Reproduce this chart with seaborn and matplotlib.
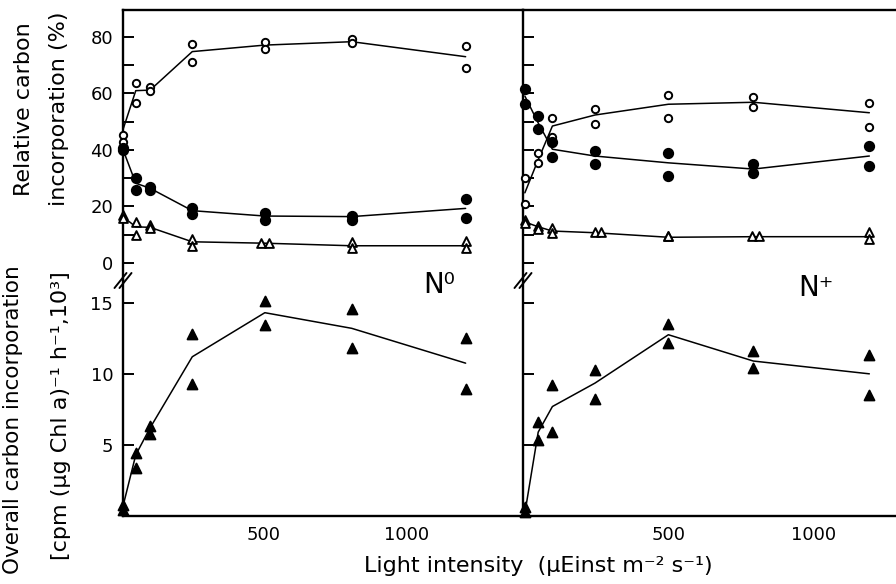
import numpy as np
import pandas as pd
import matplotlib
matplotlib.use("Agg")
import matplotlib.pyplot as plt
from matplotlib.lines import Line2D
import seaborn as sns

# ---------------- data ----------------
# N0 panel
n0_x = [10, 55, 105, 252, 505, 808, 1205]
n0_open_a = [45.2, 63.7, 62.1, 77.4, 78.2, 79.0, 76.7]
n0_open_b = [42.9, 56.6, 60.9, 70.9, 75.6, 77.6, 68.8]
n0_open_line = [47.0, 60.9, 61.1, 74.7, 77.0, 78.2, 72.9]
n0_fill_a = [40.5, 29.9, 26.7, 19.3, 17.5, 16.6, 22.5]
n0_fill_b = [39.9, 25.8, 25.8, 17.3, 15.2, 15.2, 15.8]
n0_fill_line = [40.2, 28.2, 26.4, 18.5, 16.6, 16.4, 19.3]
n0_tri_xa = [10, 55, 105, 252, 490, 808, 1205]
n0_tri_xb = [10, 55, 105, 252, 518, 808, 1205]
n0_tri_a = [17.0, 14.6, 13.4, 8.4, 7.0, 7.5, 7.9]
n0_tri_b = [15.8, 9.9, 12.3, 6.0, 7.0, 5.2, 5.2]
n0_tri_line = [16.4, 12.8, 12.6, 7.5, 7.0, 6.1, 6.1]
n0_total_a = [0.77, 4.4, 6.3, 12.8, 15.1, 14.55, 12.5]
n0_total_b = [0.4, 3.4, 5.8, 9.3, 13.45, 11.8, 8.9]
n0_total_line = [0.65, 4.3, 6.2, 11.2, 14.3, 13.2, 10.75]

# N+ panel
np_x = [3, 49, 98, 245, 498, 791, 1191]
np_open_a = [29.9, 39.0, 51.3, 54.4, 59.4, 58.6, 56.4]
np_open_b = [20.8, 35.2, 44.6, 49.1, 51.1, 55.0, 48.0]
np_open_line = [24.8, 36.5, 48.4, 52.3, 56.1, 56.8, 53.1]
np_fill_a = [61.5, 51.9, 42.7, 39.6, 39.0, 34.9, 41.4]
np_fill_b = [56.1, 47.2, 37.3, 34.9, 30.7, 31.9, 34.4]
np_fill_line = [59.0, 49.5, 40.2, 37.8, 35.4, 33.2, 37.8]
np_tri_xa = [3, 49, 98, 245, 498, 787, 1191]
np_tri_xb = [3, 49, 98, 264, 498, 811, 1191]
np_tri_a = [15.2, 13.2, 12.3, 10.8, 9.6, 9.6, 10.8]
np_tri_b = [14.2, 11.9, 10.5, 10.8, 9.6, 9.6, 8.5]
np_tri_line = [14.5, 12.8, 11.3, 10.7, 9.1, 9.3, 9.3]
np_total_a = [0.65, 6.6, 9.2, 10.3, 13.5, 11.6, 11.3]
np_total_b = [0.3, 5.35, 5.9, 8.2, 12.2, 10.4, 8.5]
np_total_line = [0.2, 5.9, 7.7, 9.35, 12.75, 10.9, 10.0]

upper_ticks = [0, 20, 40, 60, 80]
upper_minor = [10, 30, 50, 70]
lower_ticks = [5, 10, 15]
x_ticks = [500, 1000]

# ---------------- style ----------------
sns.set_style("white")
plt.rcParams["font.family"] = ["DejaVu Sans"]
plt.rcParams["text.color"] = "black"
plt.rcParams["xtick.color"] = "black"
plt.rcParams["ytick.color"] = "black"

W, H = 896, 584
fig = plt.figure(figsize=(W / 100, H / 100), dpi=100)


def rect(x0, y0, x1, y1):
    return [x0 / W, 1 - y1 / H, (x1 - x0) / W, (y1 - y0) / H]


axUL = fig.add_axes(rect(123, 10, 523, 280))
axLL = fig.add_axes(rect(123, 280, 523, 516))
axUR = fig.add_axes(rect(523, 10, 905, 280))
axLR = fig.add_axes(rect(523, 280, 905, 516))


def series(ax, xa, ya, xb, yb, xl, yl, marker, filled, size):
    line = pd.DataFrame({"x": xl, "y": yl})
    pts = pd.DataFrame({"x": list(xa) + list(xb), "y": list(ya) + list(yb)})
    sns.lineplot(data=line, x="x", y="y", ax=ax, color="black", lw=1.1,
                 estimator=None, sort=False, zorder=2, clip_on=False)
    sns.scatterplot(data=pts, x="x", y="y", ax=ax, marker=marker, s=size,
                    color="black" if filled else "white", edgecolor="black",
                    linewidth=1.4, zorder=3, clip_on=False, legend=False)


# N0
series(axUL, n0_x, n0_open_a, n0_x, n0_open_b, n0_x, n0_open_line, "o", False, 28)
series(axUL, n0_x, n0_fill_a, n0_x, n0_fill_b, n0_x, n0_fill_line, "o", True, 45)
series(axUL, n0_tri_xa, n0_tri_a, n0_tri_xb, n0_tri_b, n0_x, n0_tri_line, "^", False, 40)
series(axLL, n0_x, n0_total_a, n0_x, n0_total_b, n0_x, n0_total_line, "^", True, 50)
# N+
series(axUR, np_x, np_open_a, np_x, np_open_b, np_x, np_open_line, "o", False, 28)
series(axUR, np_x, np_fill_a, np_x, np_fill_b, np_x, np_fill_line, "o", True, 45)
series(axUR, np_tri_xa, np_tri_a, np_tri_xb, np_tri_b, np_x, np_tri_line, "^", False, 40)
series(axLR, np_x, np_total_a, np_x, np_total_b, np_x, np_total_line, "^", True, 50)

for ax in (axUL, axLL):
    ax.set_xlim(10.5, 1405)
for ax in (axUR, axLR):
    ax.set_xlim(-3.4, 1314)
for ax in (axUL, axUR):
    ax.set_ylim(-6.0, 89.4)
for ax in (axLL, axLR):
    ax.set_ylim(0, 16.6)

lw_sp = 1.7
for ax in (axUL, axLL, axUR, axLR):
    ax.set_xlabel("")
    ax.set_ylabel("")
    for s in ax.spines.values():
        s.set_linewidth(lw_sp)
        s.set_color("black")
    ax.spines["right"].set_visible(False)
    ax.set_facecolor("none")

for ax in (axUL, axUR):
    ax.spines["bottom"].set_visible(False)
    ax.set_xticks([])
    ax.set_yticks(upper_ticks)
    ax.set_yticks(upper_minor, minor=True)
    ax.tick_params(axis="y", which="both", direction="in", length=8, width=1.4,
                   left=True, right=False, labelsize=13, pad=7,
                   colors="black", labelcolor="black")
for ax in (axLL, axLR):
    ax.spines["top"].set_visible(False)
    ax.set_yticks(lower_ticks)
    ax.set_xticks(x_ticks)
    ax.tick_params(axis="both", which="both", direction="in", length=8, width=1.4,
                   left=True, right=False, labelsize=13, pad=7,
                   colors="black", labelcolor="black")
axUR.tick_params(axis="y", labelleft=False)
axLR.tick_params(axis="y", labelleft=False)

# axis break marks
for xc in (123, 523):
    for dx in (-2.5, 2.5):
        fig.add_artist(Line2D([(xc + dx - 6) / W, (xc + dx + 6) / W],
                              [1 - 288 / H, 1 - 273 / H], color="black", lw=1.4,
                              transform=fig.transFigure))

# texts
fig.text(24 / W, 1 - 109 / H, "Relative carbon", rotation=90, ha="center", va="center", fontsize=16)
fig.text(59 / W, 1 - 109 / H, "incorporation (%)", rotation=90, ha="center", va="center", fontsize=16)
fig.text(13 / W, 1 - 420 / H, "Overall carbon incorporation", rotation=90, ha="center", va="center", fontsize=15.5)
fig.text(61 / W, 1 - 416 / H, "[cpm (μg Chl a)⁻¹ h⁻¹,10³]", rotation=90, ha="center", va="center", fontsize=16)
fig.text(538 / W, 1 - 566 / H, "Light intensity  (μEinst m⁻² s⁻¹)", ha="center", va="center", fontsize=16)
fig.text(423 / W, 1 - 293 / H, "N⁰", ha="left", va="baseline", fontsize=20)
fig.text(798 / W, 1 - 296 / H, "N⁺", ha="left", va="baseline", fontsize=20)

fig.savefig("out.png", dpi=100)
